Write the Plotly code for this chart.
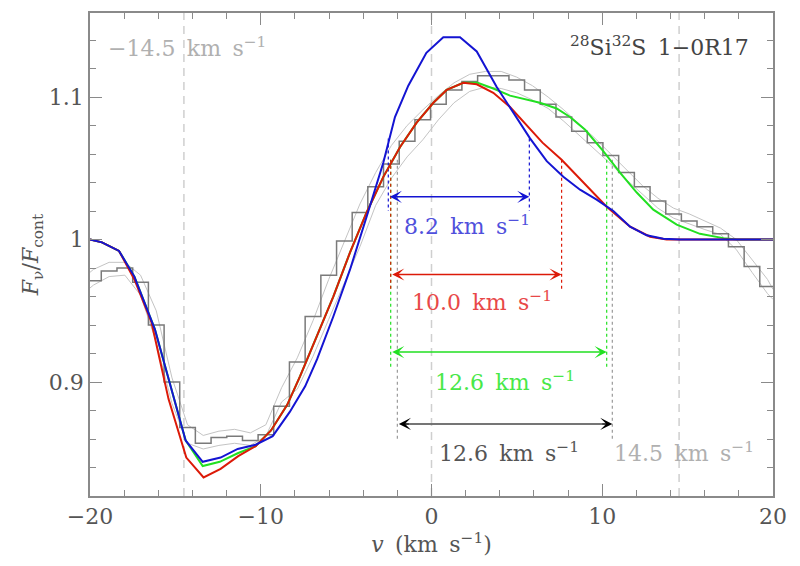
import plotly.graph_objects as go

# ---------------- data ----------------
# observed spectrum: channel centres (km/s) and normalised flux
v_chan = [-20.72, -19.80, -18.88, -17.96, -17.04, -16.12, -15.20, -14.29, -13.37, -12.45,
          -11.53, -10.61, -9.70, -8.78, -7.86, -6.94, -6.02, -5.10, -4.19, -3.27,
          -2.35, -1.43, -0.51, 0.40, 1.32, 2.24, 3.16, 4.08, 4.99, 5.91,
          6.83, 7.75, 8.67, 9.58, 10.50, 11.42, 12.34, 13.26, 14.18, 15.09,
          16.01, 16.93, 17.85, 18.77, 19.68, 20.60]
flux_obs = [0.971, 0.971, 0.978, 0.980, 0.970, 0.940, 0.900, 0.868, 0.857, 0.861,
            0.862, 0.859, 0.863, 0.883, 0.914, 0.946, 0.975, 0.999, 1.019, 1.037,
            1.053, 1.069, 1.084, 1.095, 1.105, 1.111, 1.115, 1.115, 1.112, 1.105,
            1.095, 1.086, 1.076, 1.068, 1.059, 1.047, 1.037, 1.027, 1.018, 1.013,
            1.009, 1.004, 0.995, 0.981, 0.967, 0.960]

# noise envelope (upper / lower)
v_env = [-20.0, -19.80, -18.88, -17.96, -17.04, -16.12, -15.20, -14.29, -13.37, -12.45,
         -11.53, -10.61, -9.70, -8.78, -7.86, -6.94, -6.02, -5.10, -4.19, -3.27,
         -2.35, -1.43, -0.51, 0.40, 1.32, 2.24, 3.16, 4.08, 4.99, 5.91,
         6.83, 7.75, 8.67, 9.58, 10.50, 11.42, 12.34, 13.26, 14.18, 15.09,
         16.01, 16.93, 17.85, 18.77, 19.68, 20.0]
flux_upper = [0.977, 0.979, 0.984, 0.984, 0.975, 0.950, 0.903, 0.870, 0.8625, 0.8655,
              0.8668, 0.8643, 0.870, 0.896, 0.917, 0.943, 0.972, 0.999, 1.025, 1.047,
              1.066, 1.080, 1.091, 1.101, 1.110, 1.116, 1.118, 1.118, 1.114, 1.108,
              1.100, 1.091, 1.081, 1.071, 1.060, 1.049, 1.038, 1.029, 1.022, 1.018,
              1.013, 1.008, 1.000, 0.986, 0.972, 0.965]
flux_lower = [0.966, 0.968, 0.974, 0.975, 0.961, 0.928, 0.885, 0.857, 0.853, 0.8555,
              0.857, 0.8555, 0.862, 0.886, 0.895, 0.918, 0.944, 0.969, 0.995, 1.024,
              1.043, 1.058, 1.070, 1.084, 1.096, 1.104, 1.107, 1.106, 1.103, 1.098,
              1.092, 1.083, 1.073, 1.063, 1.053, 1.042, 1.032, 1.022, 1.015, 1.011,
              1.007, 1.0035, 0.993, 0.977, 0.962, 0.958]

# model profiles
v_blue = [-20.0, -19.3, -18.3, -17.4, -16.2, -15.2, -14.4, -13.4, -12.35, -11.35,
          -10.3, -9.3, -8.3, -7.4, -6.7, -5.75, -4.77, -3.8, -2.82, -2.14,
          -1.36, -0.3, 0.69, 1.67, 2.65, 3.82, 4.79, 5.77, 6.75, 7.72,
          8.70, 9.67, 10.65, 11.63, 12.60, 13.58, 14.55, 20.0]
f_blue = [1.000, 0.998, 0.992, 0.974, 0.937, 0.893, 0.859, 0.844, 0.847, 0.853,
          0.856, 0.862, 0.879, 0.897, 0.916, 0.946, 0.979, 1.016, 1.054, 1.086,
          1.108, 1.131, 1.142, 1.142, 1.132, 1.107, 1.089, 1.071, 1.055, 1.044,
          1.035, 1.028, 1.020, 1.009, 1.003, 1.0005, 1.000, 1.000]

v_red = [-20.0, -19.3, -18.3, -17.4, -16.4, -15.4, -14.36, -13.35, -12.35, -11.32,
         -10.3, -9.4, -8.45, -7.7, -6.72, -5.75, -4.77, -3.8, -2.82, -1.84,
         -0.87, 0.11, 0.89, 1.86, 2.65, 3.62, 4.60, 5.58, 6.5, 7.62,
         8.89, 10.26, 11.63, 12.80, 13.77, 20.0]
f_red = [1.000, 0.998, 0.992, 0.972, 0.942, 0.888, 0.847, 0.833, 0.839, 0.848,
         0.855, 0.866, 0.884, 0.904, 0.932, 0.960, 0.991, 1.019, 1.044, 1.065,
         1.082, 1.096, 1.105, 1.110, 1.109, 1.103, 1.093, 1.080, 1.068, 1.056,
         1.040, 1.023, 1.009, 1.002, 1.000, 1.000]

v_green = [-20.0, -19.3, -18.3, -17.4, -16.2, -15.2, -14.4, -13.4, -12.4, -11.35,
           -10.3, -9.4, -8.45, -7.7, -6.72, -5.75, -4.77, -3.8, -2.82, -1.84,
           -0.87, 0.11, 0.89, 1.86, 2.7, 3.62, 4.6, 5.58, 6.35, 7.33,
           8.11, 9.0, 10.06, 11.04, 12.02, 12.99, 14.36, 15.72, 17.09, 17.9, 20.0]
f_green = [1.000, 0.998, 0.992, 0.974, 0.937, 0.893, 0.859, 0.841, 0.844, 0.850,
           0.855, 0.866, 0.884, 0.904, 0.932, 0.960, 0.991, 1.019, 1.044, 1.065,
           1.082, 1.096, 1.105, 1.110, 1.110, 1.106, 1.101, 1.098, 1.096, 1.092,
           1.086, 1.077, 1.062, 1.047, 1.033, 1.021, 1.0105, 1.004, 1.001, 1.000, 1.000]

# widths of the profiles (blue, red, green, observed)
width_text = ["8.2", "10.0", "12.6", "12.6"]
edge_lo = [-2.53, -2.39, -2.39, -2.00]
edge_hi = [5.73, 7.62, 10.26, 10.59]
half_level = [1.071, 1.056, 1.056, 1.056]
arrow_level = [1.030, 0.9755, 0.921, 0.8706]
marker_bottom = [1.020, 0.965, 0.910, 0.860]
width_label_v = [-1.75, -1.26, 0.10, 0.30]
width_label_f = [1.010, 0.957, 0.901, 0.851]

ref_vel = [-14.5, 0.0, 14.5]
x_ticks = [-20, -10, 0, 10, 20]
y_ticks = [0.9, 1.0, 1.1]
y_tick_text = ["0.9", "1", "1.1"]

# ---------------- styles ----------------
FONT = "DejaVu Serif"
FS = 22
GAP = " \u2009"
C_BLUE, C_RED, C_GREEN = "#1414d2", "#dc1a08", "#22e022"
C_BLUE_T, C_RED_T, C_GREEN_T = "#5050dc", "#e84848", "#48e848"
C_AX = "#8a8a8a"
width_line_col = [C_BLUE, C_RED, C_GREEN, "#9a9a9a"]
width_text_col = [C_BLUE_T, C_RED_T, C_GREEN_T, "#555555"]
arrow_col = [C_BLUE, C_RED, C_GREEN, "#000000"]


def kms(num):
    return num + GAP + "km" + GAP + "s<sup>−1</sup>"


fig = go.Figure()

for v in ref_vel:
    fig.add_vline(x=v, line=dict(color="#cfcfcf", width=1.5, dash="8px,6px"), layer="below")

fig.add_trace(go.Scatter(x=v_env, y=flux_upper, mode="lines",
                         line=dict(color="#c4c4c4", width=1), hoverinfo="skip"))
fig.add_trace(go.Scatter(x=v_env, y=flux_lower, mode="lines",
                         line=dict(color="#c4c4c4", width=1), hoverinfo="skip"))
fig.add_trace(go.Scatter(x=v_chan, y=flux_obs, mode="lines", line_shape="hvh",
                         line=dict(color="#7a7a7a", width=1.5)))

# dotted width markers (observed first, then green, red, blue)
for i in [3, 2, 1, 0]:
    fig.add_trace(go.Scatter(
        x=[edge_lo[i], edge_lo[i], None, edge_hi[i], edge_hi[i]],
        y=[half_level[i], marker_bottom[i], None, half_level[i], marker_bottom[i]],
        mode="lines", line=dict(color=width_line_col[i], width=1.2, dash="dot"),
        hoverinfo="skip"))

fig.add_trace(go.Scatter(x=v_green, y=f_green, mode="lines", line=dict(color=C_GREEN, width=2)))
fig.add_trace(go.Scatter(x=v_red, y=f_red, mode="lines", line=dict(color=C_RED, width=2)))
fig.add_trace(go.Scatter(x=v_blue, y=f_blue, mode="lines", line=dict(color=C_BLUE, width=2)))

ann = []
for i in range(4):
    ann.append(dict(x=edge_hi[i], y=arrow_level[i], ax=edge_lo[i], ay=arrow_level[i],
                    xref="x", yref="y", axref="x", ayref="y", text="", showarrow=True,
                    arrowside="end+start", arrowhead=3, startarrowhead=3,
                    arrowsize=1.35, startarrowsize=1.35, arrowwidth=1.5,
                    arrowcolor=arrow_col[i]))
    if i == 3:
        ann.append(dict(x=edge_hi[i], y=arrow_level[i], ax=edge_lo[i], ay=arrow_level[i],
                        xref="x", yref="y", axref="x", ayref="y", text="", showarrow=True,
                        arrowhead=0, arrowwidth=1.5, arrowcolor="#888888",
                        standoff=10, startstandoff=10))
    ann.append(dict(x=width_label_v[i], y=width_label_f[i], xref="x", yref="y",
                    xanchor="left", yanchor="middle", showarrow=False,
                    text=kms(width_text[i]),
                    font=dict(family=FONT, size=FS, color=width_text_col[i])))

ann.append(dict(x=-19.06, y=1.135, xref="x", yref="y", xanchor="left", yanchor="middle",
                showarrow=False, text=kms("−14.5"),
                font=dict(family=FONT, size=FS, color="#b0b0b0")))
ann.append(dict(x=10.55, y=0.851, xref="x", yref="y", xanchor="left", yanchor="middle",
                showarrow=False, text=kms("14.5"),
                font=dict(family=FONT, size=FS, color="#b0b0b0")))
ann.append(dict(x=8.0, y=1.136, xref="x", yref="y", xanchor="left", yanchor="middle",
                showarrow=False, text="<sup>28</sup>Si<sup>32</sup>S" + GAP + "1−0R17",
                font=dict(family=FONT, size=FS, color="#444444")))

axis_common = dict(showline=True, linecolor=C_AX, linewidth=1.5, mirror="ticks",
                   ticks="inside", tickcolor=C_AX, tickwidth=1.2, ticklen=12,
                   showgrid=False, zeroline=False, automargin=False,
                   tickfont=dict(family=FONT, size=FS, color="#555555"))

# the page body adds an 8 px offset, compensated in the margins
fig.update_layout(
    width=800, height=566,
    margin=dict(l=82, r=35, t=5, b=78),
    paper_bgcolor="white", plot_bgcolor="white",
    showlegend=False,
    annotations=ann,
    xaxis=dict(range=[-20, 20], tickvals=x_ticks,
               minor=dict(dtick=2, ticks="inside", ticklen=6, tickcolor=C_AX, tickwidth=1.2),
               title=dict(text="<i>v</i>" + GAP + "(km" + GAP + "s<sup>−1</sup>)", standoff=2,
                          font=dict(family=FONT, size=FS, color="#555555")),
               **axis_common),
    yaxis=dict(range=[0.82, 1.159], tickvals=y_ticks, ticktext=y_tick_text,
               minor=dict(dtick=0.02, tick0=0.82, ticks="inside", ticklen=6,
                          tickcolor=C_AX, tickwidth=1.2),
               title=dict(text="<i>F</i><sub>ν</sub>/<i>F</i><sub>cont</sub>", standoff=4,
                          font=dict(family=FONT, size=FS, color="#555555")),
               **axis_common),
)

fig.write_html("out.html")
